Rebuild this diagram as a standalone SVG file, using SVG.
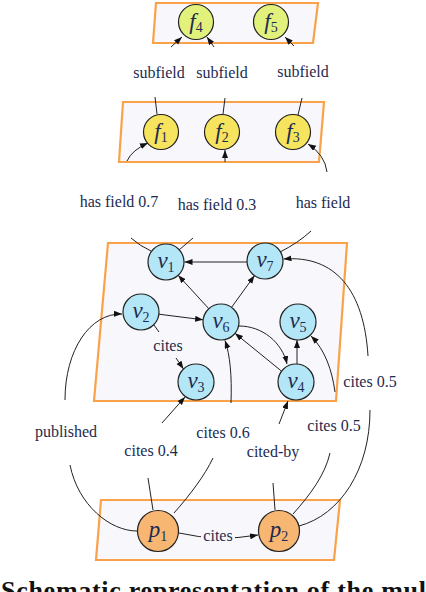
<svg xmlns="http://www.w3.org/2000/svg" width="426" height="592" viewBox="0 0 426 592">
<style>
.plane{fill:#f8f8fc;stroke:#f9a24a;stroke-width:2.2}
.e{fill:none;stroke:#222;stroke-width:1}
.a{marker-end:url(#arr)}
.lbl{font-family:"Liberation Serif",serif;font-size:16px;fill:#1d2b4f;text-anchor:middle}
.nc{stroke:#222;stroke-width:1.2}
.f{fill:#f7e45e}
.ft{fill:#e2f17c}
.v{fill:#b3e6f6}
.p{fill:#f8b673}
.nl{font-family:"Liberation Serif",serif;font-size:23px;fill:#1d2b4f;text-anchor:middle}
.nl .m{font-style:italic}
.nl .s{font-size:14px}
</style>
<defs>
<marker id="arr" markerUnits="userSpaceOnUse" markerWidth="9" markerHeight="7" refX="8" refY="3" orient="auto">
<path d="M0,0 L8,3 L0,6 z" fill="#111"/>
</marker>
</defs>
<rect width="426" height="592" fill="#fff"/>
<g id="planes">
<polygon class="plane" points="156,3 318,3 313,43 153,43"/>
<polygon class="plane" points="123,102 324,102 319,162 119,162"/>
<polygon class="plane" points="108,243 347,243 336,401 94,401"/>
<polygon class="plane" points="101,500 340,500 334,560 96,560"/>
</g>
<g id="connectors">
<path class="e" d="M157,114 L155,97"/>
<path class="e a" d="M171,47 L182,37"/>
<path class="e" d="M223,114 L225,98"/>
<path class="e a" d="M214,47 L207,37"/>
<path class="e" d="M298,115 L302,98"/>
<path class="e a" d="M294,46 L285,37"/>
<path class="e" d="M151,251 Q140,246 131,238"/>
<path class="e a" d="M127,161 Q132,150 148,143"/>
<path class="e" d="M179,250 L193,238"/>
<path class="e a" d="M225,162 L225,150"/>
<path class="e" d="M280,252 Q298,243 311,231"/>
<path class="e a" d="M327,172 Q325,155 308,144"/>
<path class="e a" d="M247,262 L184.5,262"/>
<path class="e a" d="M208.8,308.7 L178.2,275.3"/>
<path class="e a" d="M231.5,307.4 L254.5,275.6"/>
<path class="e a" d="M158.9,314.2 L203.1,319.8"/>
<path class="e a" d="M239,326 C262,326 282,342 287,364"/>
<path class="e a" d="M281,370.7 L235,333.3"/>
<path class="e a" d="M297,364 L297,340"/>
<path class="e" d="M154,325 L159,332"/>
<path class="e a" d="M176,358 L183.5,369"/>
<path class="e a" d="M65,400 C65,350 90,313 122,314"/>
<path class="e" d="M70,465 C78,505 110,531 137,531"/>
<path class="e" d="M153,510 L148,478"/>
<path class="e a" d="M162,423 L185,397"/>
<path class="e" d="M174,513 C190,495 205,475 213,458"/>
<path class="e a" d="M231,403 C232,375 230,355 225,340.5"/>
<path class="e" d="M275,510 L273,483"/>
<path class="e a" d="M279,424 L288,401"/>
<path class="e" d="M293,514 C310,495 325,475 330,453"/>
<path class="e a" d="M335,392 C332,370 325,350 311,336"/>
<path class="e" d="M299,526 C340,515 370,470 370,410"/>
<path class="e a" d="M368,356 C364,290 335,255 283.5,259"/>
<path class="e a" d="M179,533 Q218,542 258,535"/>
<rect x="201" y="529" width="34" height="14" fill="#f8f8fc"/>
</g>
<g id="edge-labels">
<text class="lbl" x="159" y="78">subfield</text>
<text class="lbl" x="222" y="78">subfield</text>
<text class="lbl" x="303" y="77">subfield</text>
<text class="lbl" x="119" y="207">has field 0.7</text>
<text class="lbl" x="217" y="210">has field 0.3</text>
<text class="lbl" x="323" y="208">has field</text>
<text class="lbl" x="168" y="351">cites</text>
<text class="lbl" x="370" y="387">cites 0.5</text>
<text class="lbl" x="66" y="437">published</text>
<text class="lbl" x="223" y="438">cites 0.6</text>
<text class="lbl" x="151" y="456">cites 0.4</text>
<text class="lbl" x="334" y="431">cites 0.5</text>
<text class="lbl" x="273" y="457">cited-by</text>
<text class="lbl" x="218" y="541">cites</text>
</g>
<g id="f4"><circle class="nc ft" cx="196" cy="22" r="17.5"/><text class="nl" x="196" y="29"><tspan class="m">f</tspan><tspan class="s" dy="3">4</tspan></text></g>
<g id="f5"><circle class="nc ft" cx="271" cy="22" r="17.5"/><text class="nl" x="271" y="29"><tspan class="m">f</tspan><tspan class="s" dy="3">5</tspan></text></g>
<g id="f1"><circle class="nc f" cx="161" cy="132" r="17.5"/><text class="nl" x="161" y="139"><tspan class="m">f</tspan><tspan class="s" dy="3">1</tspan></text></g>
<g id="f2"><circle class="nc f" cx="222" cy="132" r="17.5"/><text class="nl" x="222" y="139"><tspan class="m">f</tspan><tspan class="s" dy="3">2</tspan></text></g>
<g id="f3"><circle class="nc f" cx="293" cy="132" r="17.5"/><text class="nl" x="293" y="139"><tspan class="m">f</tspan><tspan class="s" dy="3">3</tspan></text></g>
<g id="v1"><circle class="nc v" cx="166" cy="262" r="18"/><text class="nl" x="166" y="268"><tspan class="m">v</tspan><tspan class="s" dy="4">1</tspan></text></g>
<g id="v7"><circle class="nc v" cx="265" cy="261" r="18"/><text class="nl" x="265" y="267"><tspan class="m">v</tspan><tspan class="s" dy="4">7</tspan></text></g>
<g id="v2"><circle class="nc v" cx="141" cy="312" r="18"/><text class="nl" x="141" y="318"><tspan class="m">v</tspan><tspan class="s" dy="4">2</tspan></text></g>
<g id="v6"><circle class="nc v" cx="221" cy="322" r="18"/><text class="nl" x="221" y="328"><tspan class="m">v</tspan><tspan class="s" dy="4">6</tspan></text></g>
<g id="v5"><circle class="nc v" cx="298" cy="322" r="18"/><text class="nl" x="298" y="328"><tspan class="m">v</tspan><tspan class="s" dy="4">5</tspan></text></g>
<g id="v3"><circle class="nc v" cx="196" cy="382" r="18"/><text class="nl" x="196" y="388"><tspan class="m">v</tspan><tspan class="s" dy="4">3</tspan></text></g>
<g id="v4"><circle class="nc v" cx="296" cy="382" r="18"/><text class="nl" x="296" y="388"><tspan class="m">v</tspan><tspan class="s" dy="4">4</tspan></text></g>
<g id="p1"><circle class="nc p" cx="158" cy="531" r="20.5"/><text class="nl" x="158" y="537"><tspan class="m">p</tspan><tspan class="s" dy="4">1</tspan></text></g>
<g id="p2"><circle class="nc p" cx="279" cy="531" r="20.5"/><text class="nl" x="279" y="537"><tspan class="m">p</tspan><tspan class="s" dy="4">2</tspan></text></g>
<text x="1" y="599" font-family="Liberation Serif,serif" font-size="26" font-weight="bold" fill="#111" textLength="425" lengthAdjust="spacing">Schematic representation of the mul</text>
</svg>
